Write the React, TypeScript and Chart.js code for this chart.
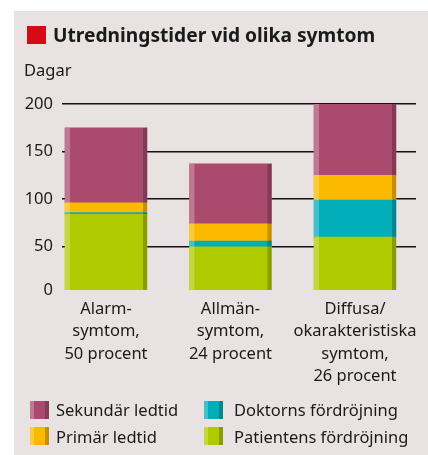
import React, { useEffect, useRef } from "react";
import { Chart, registerables } from "chart.js";

Chart.register(...registerables);

const categories: string[][] = [
  ["Alarm-", "symtom,", "50 procent"],
  ["Allmän-", "symtom,", "24 procent"],
  ["Diffusa/", "okarakteristiska", "symtom,", "26 procent"],
];
const patientDelay = [84, 50, 60];
const doctorDelay = [2, 6, 39];
const primaryLead = [10, 18, 26];
const secondaryLead = [79, 63, 75];
const yTicks = [0, 50, 100, 150, 200];

const seriesNames = ["Patientens fördröjning", "Doktorns fördröjning", "Primär ledtid", "Sekundär ledtid"];
const seriesColors = ["#b0ca00", "#00adb9", "#fbb900", "#aa4b6e"];

const FONT = "'Noto Sans', sans-serif";
const TEXT = "#1a1a1a";
const Y_BOTTOM = 4.5;

const stripPlugin = {
  id: "strips",
  afterDatasetsDraw(chart: any) {
    const { ctx, chartArea } = chart;
    ctx.save();
    ctx.beginPath();
    ctx.rect(chartArea.left, chartArea.top, chartArea.right - chartArea.left, chartArea.bottom - chartArea.top);
    ctx.clip();
    chart.data.datasets.forEach((_: any, di: number) => {
      const meta = chart.getDatasetMeta(di);
      meta.data.forEach((el: any) => {
        const { x, y, base, width } = el.getProps(["x", "y", "base", "width"], true);
        const left = x - width / 2;
        const top = Math.min(y, base);
        const h = Math.abs(base - y);
        ctx.fillStyle = "rgba(255,255,255,0.25)";
        ctx.fillRect(left, top, 5, h);
        ctx.fillStyle = "rgba(0,0,0,0.22)";
        ctx.fillRect(left + width - 4, top, 4, h);
      });
    });
    ctx.restore();
  },
};

function Swatch({ color, left, top }: { color: string; left: number; top: number }) {
  return (
    <div
      style={{
        position: "absolute",
        left,
        top,
        width: 19,
        height: 18,
        background: `linear-gradient(to right, rgba(255,255,255,0.25) 0 4px, transparent 4px calc(100% - 4px), rgba(0,0,0,0.22) calc(100% - 4px)), ${color}`,
      }}
    />
  );
}

export default function App() {
  const ref = useRef<HTMLCanvasElement | null>(null);

  useEffect(() => {
    if (!ref.current) return;
    const values = [patientDelay, doctorDelay, primaryLead, secondaryLead];
    const chart = new Chart(ref.current, {
      type: "bar",
      data: {
        datasets: values.map((arr, si) => ({
          label: seriesNames[si],
          data: arr.map((v, i) => ({ x: i, y: v })),
          backgroundColor: seriesColors[si],
          borderWidth: 0,
          barThickness: 82,
        })),
      },
      options: {
        animation: false,
        responsive: false,
        maintainAspectRatio: false,
        layout: { padding: { top: 104, left: 0, right: 12, bottom: 0 } },
        plugins: { legend: { display: false }, tooltip: { enabled: false }, title: { display: false } },
        scales: {
          x: {
            type: "linear",
            stacked: true,
            offset: false,
            min: -0.3534,
            max: 2.49,
            afterBuildTicks: (scale: any) => {
              scale.ticks = categories.map((_, i) => ({ value: i }));
            },
            afterFit: (scale: any) => {
              scale.height = 165;
            },
            grid: { display: false, drawTicks: false, offset: false },
            border: { display: false },
            ticks: {
              autoSkip: false,
              maxRotation: 0,
              padding: 8,
              color: TEXT,
              font: { family: FONT, size: 16.5, lineHeight: 1.36 },
              callback: (v: any) => categories[Math.round(Number(v))] ?? "",
            },
          },
          y: {
            stacked: true,
            min: Y_BOTTOM,
            max: 200,
            afterBuildTicks: (scale: any) => {
              scale.ticks = yTicks.map((t) => ({ value: t === 0 ? Y_BOTTOM : t }));
            },
            afterFit: (scale: any) => {
              scale.width = 62;
            },
            grid: {
              drawTicks: false,
              color: (c: any) => (c.tick && c.tick.value === Y_BOTTOM ? "rgba(0,0,0,0)" : "#111"),
              lineWidth: 1.5,
            },
            border: { display: false },
            ticks: {
              padding: 9,
              color: TEXT,
              font: { family: FONT, size: 16.5 },
              callback: (v: any) => (Number(v) === Y_BOTTOM ? "0" : String(v)),
            },
          },
        },
      },
      plugins: [stripPlugin],
    });
    return () => chart.destroy();
  }, []);

  const legendText: React.CSSProperties = {
    position: "absolute",
    fontFamily: FONT,
    fontSize: 16.5,
    color: TEXT,
    lineHeight: "20px",
    whiteSpace: "nowrap",
  };

  return (
    <div style={{ position: "fixed", left: 0, top: 0, width: 428, height: 455, background: "#fff", overflow: "hidden" }}>
      <div style={{ position: "absolute", left: 14, top: 11, right: 0, bottom: 0, background: "#e8e2e2" }} />
      <canvas ref={ref} width={428} height={455} style={{ position: "absolute", left: 0, top: 0, width: 428, height: 455 }} />
      <div style={{ position: "absolute", left: 27, top: 26, width: 19, height: 18, background: "#d50a12" }} />
      <div
        style={{
          position: "absolute",
          left: 53,
          top: 22,
          fontFamily: FONT,
          fontWeight: 700,
          fontSize: 19.2,
          lineHeight: "25px",
          color: TEXT,
          whiteSpace: "nowrap",
        }}
      >
        Utredningstider vid olika symtom
      </div>
      <div style={{ ...legendText, left: 24, top: 60 }}>Dagar</div>
      <Swatch color={seriesColors[3]} left={30} top={401} />
      <div style={{ ...legendText, left: 56, top: 400 }}>{seriesNames[3]}</div>
      <Swatch color={seriesColors[2]} left={30} top={427} />
      <div style={{ ...legendText, left: 56, top: 427 }}>{seriesNames[2]}</div>
      <Swatch color={seriesColors[1]} left={204} top={401} />
      <div style={{ ...legendText, left: 234, top: 400 }}>{seriesNames[1]}</div>
      <Swatch color={seriesColors[0]} left={204} top={427} />
      <div style={{ ...legendText, left: 234, top: 427 }}>{seriesNames[0]}</div>
    </div>
  );
}
